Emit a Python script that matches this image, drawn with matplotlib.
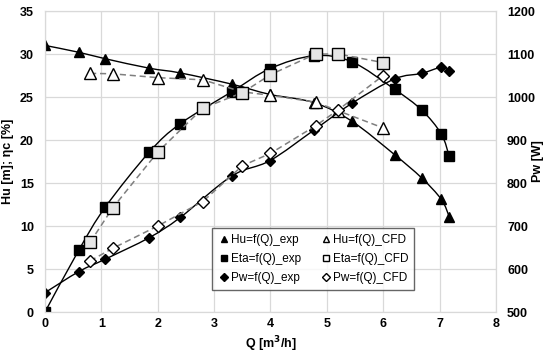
import numpy as np
import matplotlib.pyplot as plt
from matplotlib.path import Path
from matplotlib.patches import PathPatch
from matplotlib.lines import Line2D

plt.rcParams['font.family'] = ['Liberation Sans', 'DejaVu Sans']
plt.rcParams['font.weight'] = 'bold'

# experimental data
q_exp = [0, 0.6, 1.07, 1.85, 2.4, 3.31, 3.99, 4.77, 5.44, 6.2, 6.68, 7.03, 7.17]
hu_exp = [31.0, 30.2, 29.45, 28.35, 27.8, 26.5, 25.3, 24.35, 22.2, 18.3, 15.6, 13.1, 11.1]
eta_exp = [0, 7.2, 12.2, 18.6, 21.9, 25.6, 28.3, 29.8, 29.1, 25.9, 23.5, 20.7, 18.1]
pw_exp = [545, 594, 623, 673, 720, 816, 852, 923, 985, 1042, 1055, 1069, 1060]

# CFD data
q_cfd = [0.8, 1.2, 2.0, 2.8, 3.5, 4.0, 4.8, 5.2, 6.0]
hu_cfd = [27.75, 27.7, 27.25, 27.0, 25.6, 25.2, 24.4, 23.4, 21.4]
eta_cfd = [8.1, 12.1, 18.6, 23.7, 25.5, 27.6, 30.0, 30.0, 29.0]
pw_cfd = [619, 648, 700, 757, 840, 869, 933, 970, 1050]


def smooth_path(x, y):
    # excel-like smoothed line through the points (bezier segments)
    pts = np.column_stack([x, y]).astype(float)
    p = np.vstack([pts[0], pts, pts[-1]])
    verts = [pts[0]]
    codes = [Path.MOVETO]
    for i in range(1, len(p) - 2):
        c1 = p[i] + (p[i + 1] - p[i - 1]) / 6
        c2 = p[i + 1] - (p[i + 2] - p[i]) / 6
        verts += [c1, c2, p[i + 1]]
        codes += [Path.CURVE4] * 3
    return Path(verts, codes)


fig = plt.figure(figsize=(5.5, 3.54), dpi=100)
ax = fig.add_axes([0.0818, 0.1186, 0.82, 0.8503])
ax2 = ax.twinx()

gray = '#7f7f7f'
dash = dict(color=gray, lw=1.1, dashes=(4, 2.5))

ax.add_patch(PathPatch(smooth_path(q_exp, hu_exp), fill=False, ec='black', lw=1.0))
ax.add_patch(PathPatch(smooth_path(q_exp, eta_exp), fill=False, ec='black', lw=1.0))
ax.plot(q_exp, hu_exp, ls='none', marker='^', ms=7, color='black')
ax.plot(q_exp, eta_exp, ls='none', marker='s', ms=7, color='black')
ax.plot(q_cfd, hu_cfd, marker='^', ms=8, mfc='white', mec='black', mew=1.0, **dash)
ax.plot(q_cfd, eta_cfd, marker='s', ms=8, mfc='#e6e6e6', mec='black', mew=1.0, **dash)

ax2.add_patch(PathPatch(smooth_path(q_exp, pw_exp), fill=False, ec='black', lw=1.0))
ax2.plot(q_exp, pw_exp, ls='none', marker='D', ms=5, color='black')
ax2.plot(q_cfd, pw_cfd, marker='D', ms=6, mfc='white', mec='black', mew=1.0, **dash)

ax.set_xlim(0, 8)
ax.set_ylim(0, 35)
ax2.set_ylim(500, 1200)
ax.set_xticks(range(0, 9))
ax.set_yticks(range(0, 36, 5))
ax2.set_yticks(range(500, 1201, 100))
ax.grid(True, color='#d9d9d9', lw=0.9)
ax.set_axisbelow(True)
for a in (ax, ax2):
    for s in a.spines.values():
        s.set_color('#d9d9d9')
ax.tick_params(axis='both', length=0, labelsize=9)
ax.tick_params(axis='y', pad=8)
ax.tick_params(axis='x', pad=4)
ax2.tick_params(axis='y', length=0, labelsize=9, pad=8)

ax.set_xlabel('Q [m$^3$/h]', fontsize=9, fontweight='bold')
ax.set_ylabel('Hu [m]; ηc [%]', fontsize=9, fontweight='bold')
ax2.set_ylabel('Pw [W]', fontsize=9, fontweight='bold')
ax.xaxis.set_label_coords(0.5, -0.075)
ax.yaxis.set_label_coords(-0.068, 0.5)
ax2.yaxis.set_label_coords(1.08, 0.5)

handles = [
    Line2D([], [], ls='none', marker='^', ms=5, color='black'),
    Line2D([], [], ls='none', marker='s', ms=5, color='black'),
    Line2D([], [], ls='none', marker='D', ms=4, color='black'),
    Line2D([], [], ls='none', marker='^', ms=5, mfc='white', mec='black'),
    Line2D([], [], ls='none', marker='s', ms=5, mfc='white', mec='black'),
    Line2D([], [], ls='none', marker='D', ms=4, mfc='white', mec='black'),
]
labels = ['Hu=f(Q)_exp', 'Eta=f(Q)_exp', 'Pw=f(Q)_exp',
          'Hu=f(Q)_CFD', 'Eta=f(Q)_CFD', 'Pw=f(Q)_CFD']
leg = ax2.legend(handles, labels, ncol=2, loc='lower left',
                 bbox_to_anchor=(0.37, 0.073), borderaxespad=0,
                 prop={'size': 8.5, 'weight': 'normal'}, fancybox=False,
                 edgecolor='#404040', handletextpad=0.1, handlelength=1.0,
                 columnspacing=1.6, labelspacing=0.6, borderpad=0.5)
leg.get_frame().set_linewidth(1.0)

fig.savefig('out.png', dpi=100)
